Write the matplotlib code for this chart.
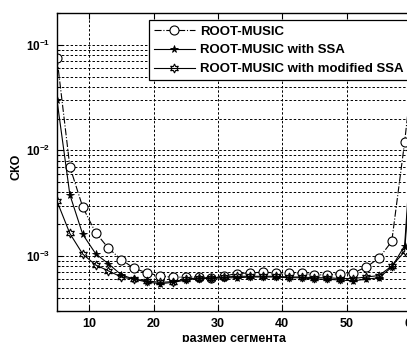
import numpy as np
import matplotlib
matplotlib.use("Agg")
import matplotlib.pyplot as plt
from matplotlib.ticker import LogLocator, FixedLocator, NullFormatter, FuncFormatter

plt.rcParams['font.family'] = ['Liberation Sans', 'DejaVu Sans']
plt.rcParams['font.weight'] = 'bold'
plt.rcParams['mathtext.fontset'] = 'custom'
plt.rcParams['mathtext.bf'] = 'Liberation Sans:bold'
plt.rcParams['mathtext.rm'] = 'Liberation Sans'

# размер сегмента
seg = [5, 7, 9, 11, 13, 15, 17, 19, 21, 23, 25, 27, 29, 31, 33, 35, 37, 39,
       41, 43, 45, 47, 49, 51, 53, 55, 57, 59, 61]

rm = [0.075, 7.0e-3, 2.9e-3, 1.66e-3, 1.18e-3, 9.2e-4, 7.6e-4, 6.9e-4, 6.45e-4,
      6.26e-4, 6.3e-4, 6.3e-4, 6.2e-4, 6.45e-4, 6.8e-4, 6.9e-4, 7.0e-4, 6.9e-4,
      6.9e-4, 6.9e-4, 6.6e-4, 6.6e-4, 6.8e-4, 6.9e-4, 7.8e-4, 9.5e-4, 1.37e-3,
      0.012, 0.15]

rm_ssa = [0.030, 3.8e-3, 1.6e-3, 1.05e-3, 8.4e-4, 6.6e-4, 6.0e-4, 5.65e-4, 5.45e-4,
          5.6e-4, 5.9e-4, 6.1e-4, 6.1e-4, 6.2e-4, 6.2e-4, 6.3e-4, 6.3e-4, 6.3e-4,
          6.2e-4, 6.2e-4, 6.0e-4, 6.0e-4, 5.9e-4, 5.8e-4, 6.0e-4, 6.2e-4, 7.8e-4,
          1.25e-3, 0.08]

rm_mssa = [3.3e-3, 1.63e-3, 1.04e-3, 8.2e-4, 7.2e-4, 6.3e-4, 6.0e-4, 5.8e-4, 5.6e-4,
           5.7e-4, 6.0e-4, 6.2e-4, 6.2e-4, 6.3e-4, 6.4e-4, 6.4e-4, 6.4e-4, 6.4e-4,
           6.3e-4, 6.3e-4, 6.2e-4, 6.2e-4, 6.1e-4, 6.1e-4, 6.3e-4, 6.5e-4, 8.0e-4,
           1.1e-3, 0.05]

labels = ['ROOT-MUSIC', 'ROOT-MUSIC with SSA', 'ROOT-MUSIC with modified SSA']

fig = plt.figure(figsize=(4.07, 3.42), dpi=100)
ax = fig.add_axes([0.140, 0.0906, 0.870, 0.871])

ax.semilogy(seg, rm, color='black', linestyle='-.', lw=0.8, marker='o', ms=6.5,
            mfc='white', mec='black', mew=0.8, label=labels[0])
ax.semilogy(seg, rm_ssa, color='black', linestyle='-', lw=0.8, marker='*', ms=5.5,
            mfc='black', mec='black', mew=0.6, label=labels[1])
ax.semilogy(seg, rm_mssa, color='black', linestyle='-', lw=0.8, marker=(6, 1, 0), ms=6.5,
            mfc='none', mec='black', mew=0.8, label=labels[2])

ax.set_xlim(5, 60)
ax.set_ylim(3e-4, 0.2)
ax.xaxis.set_major_locator(FixedLocator([10, 20, 30, 40, 50, 60]))
ax.yaxis.set_major_locator(LogLocator(base=10, numticks=10))
ax.yaxis.set_minor_locator(LogLocator(base=10, subs=np.arange(2, 10), numticks=10))
ax.yaxis.set_minor_formatter(NullFormatter())
ax.yaxis.set_major_formatter(FuncFormatter(
    lambda v, p: r'$\mathbf{10^{%d}}$' % int(round(np.log10(v)))))

grid_ls = (0, (2.5, 2))
ax.grid(True, which='major', axis='both', color='black', linestyle=grid_ls, lw=0.7)
ax.grid(True, which='minor', axis='y', color='black', linestyle=grid_ls, lw=0.7)

ax.tick_params(which='both', direction='in', top=True, right=True, labelsize=9, width=0.8)
ax.tick_params(axis='y', labelsize=8.5)
ax.tick_params(which='major', length=4, pad=5)
ax.tick_params(which='minor', length=2)
for lab in ax.get_xticklabels():
    lab.set_fontweight('bold')
for s in ax.spines.values():
    s.set_linewidth(1.0)

ax.set_xlabel('размер сегмента', fontsize=9, fontweight='bold')
ax.set_ylabel('СКО', fontsize=9, fontweight='bold')
ax.xaxis.set_label_coords(0.5, -0.075)
ax.yaxis.set_label_coords(-0.096, 0.483)

leg = ax.legend(loc='upper right', bbox_to_anchor=(409 / 407, 1 - 20 / 342),
                bbox_transform=fig.transFigure, fontsize=9.5, handlelength=3.1,
                framealpha=1, fancybox=False, edgecolor='black', borderaxespad=0,
                borderpad=0.4, labelspacing=0.5, handletextpad=0.4)
leg.get_frame().set_linewidth(0.9)
for t in leg.get_texts():
    t.set_fontweight('bold')

fig.savefig('out.png', dpi=100)
